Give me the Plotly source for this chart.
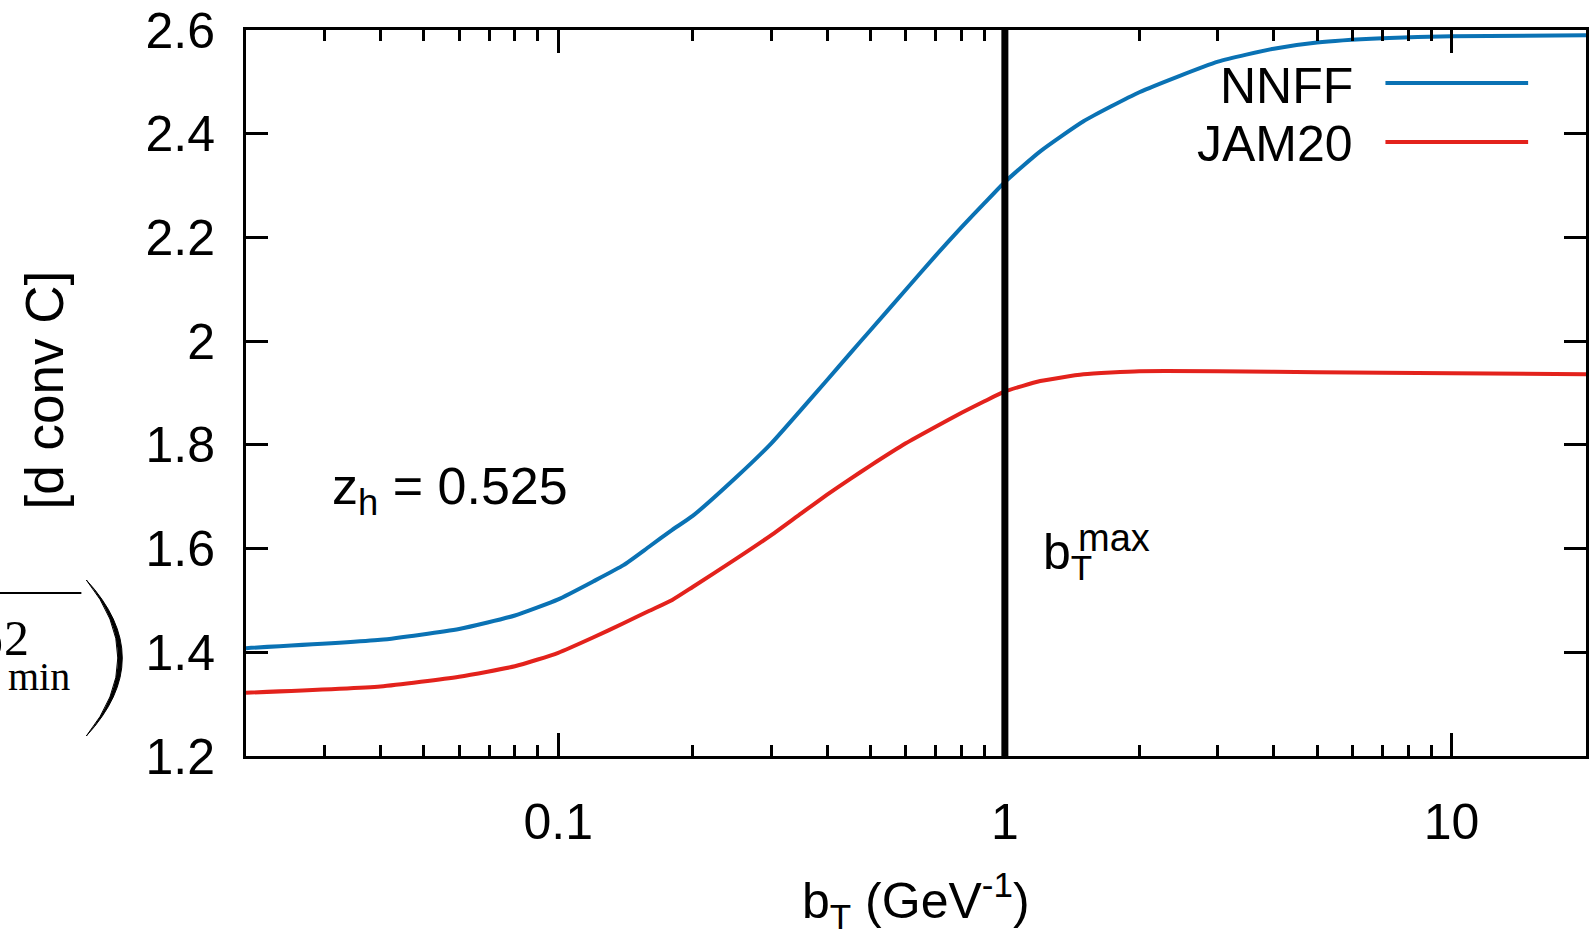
import math
import plotly.graph_objects as go

# ---- data ----
bT = [0.02, 0.04, 0.06, 0.08, 0.1, 0.12, 0.14, 0.16, 0.18, 0.2, 0.25, 0.3, 0.35, 0.4,
      0.45, 0.5, 0.6, 0.7, 0.8, 0.9, 1.0, 1.2, 1.5, 2.0, 3.0, 4.0, 5.0, 7.0, 10.0, 20.0]
nnff = [1.408, 1.424, 1.445, 1.471, 1.502, 1.537, 1.568, 1.604, 1.636, 1.663, 1.737,
        1.803, 1.868, 1.925, 1.976, 2.021, 2.099, 2.165, 2.220, 2.266, 2.307, 2.366,
        2.424, 2.480, 2.539, 2.564, 2.576, 2.584, 2.588, 2.590]
jam20 = [1.322, 1.334, 1.353, 1.373, 1.399, 1.429, 1.456, 1.480, 1.501, 1.526, 1.580,
         1.626, 1.668, 1.704, 1.734, 1.760, 1.803, 1.835, 1.862, 1.884, 1.903, 1.923,
         1.936, 1.942, 1.942, 1.941, 1.940, 1.939, 1.938, 1.936]
bmax = 1.0
x_range = [0.02, 20]
y_range = [1.2, 2.6]
x_tickvals = [0.1, 1, 10]
x_ticktext = ["0.1", "1", "10"]
x_minor = [0.03, 0.04, 0.05, 0.06, 0.07, 0.08, 0.09,
           0.2, 0.3, 0.4, 0.5, 0.6, 0.7, 0.8, 0.9,
           2, 3, 4, 5, 6, 7, 8, 9]
series_names = ["NNFF", "JAM20"]
series_colors = ["#0a72b4", "#e3221c"]

FW, FH = 1591, 936
ML, MR, MT, MB = 246, 2, 30, 180
PW, PH = FW - ML - MR, FH - MT - MB


def px(x):
    return (x - ML) / PW


def py(y):
    return (FH - MB - y) / PH


FONT = "Liberation Sans, Arial, sans-serif"
SERIF = "Liberation Serif, DejaVu Serif, serif"
FS = 50

fig = go.Figure()
for name, ys, col in zip(series_names, [nnff, jam20], series_colors):
    fig.add_trace(go.Scatter(x=bT, y=ys, mode="lines", name=name,
                             line=dict(color=col, width=4, shape="spline", smoothing=0.5),
                             showlegend=False))

fig.add_trace(go.Scatter(x=[bmax, bmax], y=y_range, mode="lines",
                         line=dict(color="black", width=7), showlegend=False))

axis_common = dict(showgrid=False, zeroline=False, showline=True, linecolor="black",
                   linewidth=3, mirror="ticks", ticks="inside", tickcolor="black",
                   tickwidth=3, tickfont=dict(family=FONT, size=FS, color="black"))

fig.update_xaxes(type="log", range=[math.log10(x_range[0]), math.log10(x_range[1])],
                 tickvals=x_tickvals, ticktext=x_ticktext, ticklen=23,
                 ticklabelstandoff=20,
                 minor=dict(tickvals=x_minor, ticks="inside", ticklen=11,
                            tickwidth=3, tickcolor="black", showgrid=False),
                 **axis_common)
fig.update_yaxes(range=y_range, dtick=0.2, tick0=1.2, ticklen=22,
                 ticklabelstandoff=18, **axis_common)

ann = []
# legend (text left of line sample, gnuplot-style)
leg_text_y = [86, 144]
leg_line_y = [83, 142]
for name, col, ty, ly in zip(series_names, series_colors, leg_text_y, leg_line_y):
    ann.append(dict(text=name, x=px(1357), y=py(ty), xref="paper", yref="paper",
                    xanchor="right", yanchor="middle", showarrow=False,
                    font=dict(family=FONT, size=FS, color="black")))
    fig.add_shape(type="line", xref="paper", yref="paper", x0=px(1388), x1=px(1531),
                  y0=py(ly), y1=py(ly), line=dict(color=col, width=4))

# z_h label
ann.append(dict(text="z<sub>h</sub> = 0.525", x=px(330), y=py(490), xref="paper",
                yref="paper", xanchor="left", yanchor="middle", showarrow=False,
                font=dict(family=FONT, size=52, color="black")))
# b_T^max label
ann.append(dict(text="b<sub>T</sub>", x=px(1043), y=py(555), xref="paper",
                yref="paper", xanchor="left", yanchor="middle", showarrow=False,
                font=dict(family=FONT, size=FS, color="black")))
ann.append(dict(text="max", x=px(1078), y=py(538), xref="paper",
                yref="paper", xanchor="left", yanchor="middle", showarrow=False,
                font=dict(family=FONT, size=38, color="black")))
# x-axis title
ann.append(dict(text="b<sub>T</sub> (GeV<sup>-1</sup>)", x=px(918), y=py(900),
                xref="paper", yref="paper", xanchor="center", yanchor="middle",
                showarrow=False, font=dict(family=FONT, size=FS, color="black")))
# y-axis title (partly outside the page, as in the reference)
ann.append(dict(text="[d conv C]", x=px(44), y=py(390), xref="paper", yref="paper",
                xanchor="center", yanchor="middle", textangle=-90, showarrow=False,
                font=dict(family=FONT, size=53, color="black")))
ann.append(dict(text="b", x=px(4), y=py(640), xref="paper", yref="paper",
                xanchor="right", yanchor="middle", showarrow=False,
                font=dict(family=SERIF, size=50, color="black")))
ann.append(dict(text="2", x=px(1), y=py(638), xref="paper", yref="paper",
                xanchor="left", yanchor="middle", showarrow=False,
                font=dict(family=SERIF, size=50, color="black")))
ann.append(dict(text="min", x=px(5), y=py(676), xref="paper", yref="paper",
                xanchor="left", yanchor="middle", showarrow=False,
                font=dict(family=SERIF, size=40, color="black")))
# closing parenthesis drawn as a thin crescent
pts = [(86, 580), (158, 658), (86, 736), (149, 658)]
path = "M {:.5f},{:.5f} Q {:.5f},{:.5f} {:.5f},{:.5f} Q {:.5f},{:.5f} {:.5f},{:.5f} Z".format(
    px(pts[0][0]), py(pts[0][1]), px(pts[1][0]), py(pts[1][1]),
    px(pts[2][0]), py(pts[2][1]), px(pts[3][0]), py(pts[3][1]),
    px(pts[0][0]), py(pts[0][1]))
fig.add_shape(type="path", xref="paper", yref="paper", path=path,
              fillcolor="black", line=dict(color="black", width=1))
fig.add_shape(type="line", xref="paper", yref="paper", x0=px(-10), x1=px(81),
              y0=py(593), y1=py(593), line=dict(color="black", width=2))

fig.update_layout(width=FW, height=FH, margin=dict(l=ML, r=MR, t=MT, b=MB),
                  paper_bgcolor="white", plot_bgcolor="white", annotations=ann,
                  font=dict(family=FONT, size=FS, color="black"))

fig.write_html("out.html")
